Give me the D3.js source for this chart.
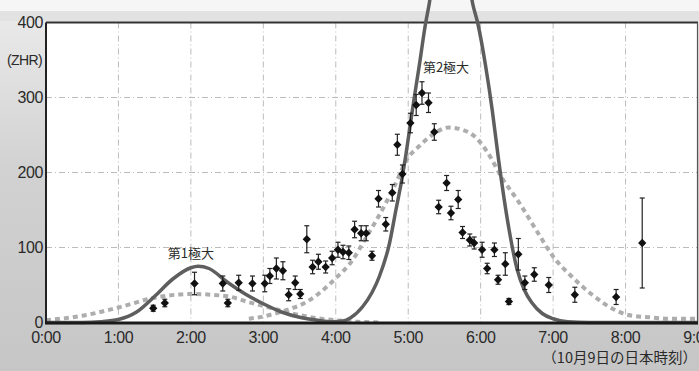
<!DOCTYPE html>
<meta charset="utf-8">
<style>
body { margin: 0; background: #fff; }
svg { display: block; }
.tick-label { font-family: "Liberation Sans", Arial, sans-serif; font-size: 16px; fill: #2a2a2a; letter-spacing: -0.4px; }
.jp { font-family: "Noto Sans CJK JP", sans-serif; fill: #2a2a2a; }
.grid line { stroke: #bcbcbc; stroke-width: 1; stroke-dasharray: 6,3,1,3; }
</style>
<body>
<script src="https://cdn.jsdelivr.net/npm/d3@7"></script>
<script>
var W = 699, H = 371

// observed ZHR (time in hours, Japan time on Oct 9)
var obsTime = [1.48, 1.64, 2.05, 2.44, 2.51, 2.66, 2.85, 3.02, 3.09, 3.18, 3.27, 3.35, 3.44, 3.51, 3.60,
    3.68, 3.76, 3.86, 3.95, 4.03, 4.10, 4.18, 4.26, 4.35, 4.42, 4.50, 4.59, 4.69, 4.78, 4.85, 4.92,
    5.03, 5.11, 5.19, 5.28, 5.36, 5.42, 5.53, 5.59, 5.69, 5.75, 5.85, 5.91, 6.02, 6.09, 6.19, 6.24,
    6.34, 6.39, 6.52, 6.61, 6.74, 6.94, 7.30, 7.87, 8.23]
var obsZhr = [19, 26, 52, 52, 26, 53, 52, 52, 62, 72, 69, 37, 53, 38, 111,
    74, 81, 74, 86, 97, 94, 93, 124, 119, 119, 89, 165, 131, 173, 237, 198,
    266, 290, 306, 293, 254, 154, 186, 146, 164, 120, 110, 106, 97, 72, 97, 57,
    78, 28, 91, 53, 64, 50, 37, 34, 106]
var obsErr = [4, 5, 15, 10, 5, 10, 10, 11, 10, 14, 12, 8, 9, 6, 18,
    9, 10, 8, 9, 10, 9, 9, 11, 10, 10, 6, 11, 9, 11, 14, 12,
    13, 14, 15, 13, 11, 9, 10, 9, 12, 8, 8, 8, 10, 7, 9, 6,
    15, 4, 21, 9, 9, 10, 10, 10, 60]

// model curve (solid)
var solidTime = [0, 0.5, 0.75, 1.0, 1.25, 1.5, 1.75, 2.0, 2.1, 2.25, 2.5, 2.75, 3.0, 3.25, 3.5, 3.75, 3.95,
    4.1, 4.2, 4.37, 4.5, 4.6, 4.74, 4.83, 4.92, 4.97, 5.06, 5.15, 5.24, 5.29, 5.59,
    5.89, 5.96, 6.07, 6.16, 6.25, 6.39, 6.5, 6.6, 6.71, 6.85, 7.0, 7.2, 7.5, 9.0]
var solidZhr = [0, 0, 1, 4, 14, 35, 58, 73, 75, 72, 54, 38, 25, 14, 7, 3, 1,
    2, 6, 21, 40, 61, 105, 150, 195, 225, 285, 341, 399, 425, 680,
    425, 399, 341, 283, 215, 125, 72, 44, 26, 12, 5, 1, 0, 0]

// model curves (dashed), first and second component
var dashATime = [0, 0.5, 1.0, 1.5, 2.0, 2.5, 2.8, 3.0, 3.2, 3.4, 3.6, 3.8, 4.0, 4.3, 4.6]
var dashAZhr = [3, 9, 20, 33, 38, 35, 27, 22, 17, 12, 8, 5, 3, 1, 0]
var dashBTime = [2.8, 3.0, 3.2, 3.4, 3.55, 3.77, 4.0, 4.23, 4.41, 4.6, 4.8, 5.0, 5.15, 5.33, 5.56, 5.75,
    5.95, 6.1, 6.3, 6.53, 6.8, 7.0, 7.26, 7.54, 7.81, 8.04, 8.32, 8.64, 9.0]
var dashBZhr = [5, 8, 13, 19, 25, 39, 59, 83, 112, 143, 180, 220, 235, 250, 260, 257,
    245, 226, 192, 160, 118, 88, 61, 37, 19, 10, 7, 5, 5]

var hourTicks = [0, 1, 2, 3, 4, 5, 6, 7, 8, 9]
var zhrTicks = [0, 100, 200, 300, 400]

var x = d3.scaleLinear().domain([0, 9]).range([46, 698])
var y = d3.scaleLinear().domain([0, 400]).range([322.5, 22.5])

var svg = d3.select('body').append('svg')
    .attr('width', W).attr('height', H)

var defs = svg.append('defs')
var grad = defs.append('linearGradient').attr('id', 'scan')
    .attr('x1', 0).attr('y1', 0).attr('x2', 0).attr('y2', 1)
grad.append('stop').attr('offset', '0%').attr('stop-color', '#ececec')
grad.append('stop').attr('offset', '45%').attr('stop-color', '#d2d2d2')
grad.append('stop').attr('offset', '100%').attr('stop-color', '#c6c6c6')

// scanned page background
svg.append('rect').attr('width', W).attr('height', H).attr('fill', 'url(#scan)')
svg.append('rect').attr('width', W).attr('height', 11).attr('fill', '#f6f6f6')
svg.append('rect').attr('x', 0).attr('y', 11).attr('width', W).attr('height', 10).attr('fill', '#e2e2e2')

svg.append('rect')
    .attr('x', x(0)).attr('y', y(400))
    .attr('width', x(9) - x(0)).attr('height', y(0) - y(400))
    .attr('fill', '#fff')

// grid
var grid = svg.append('g').attr('class', 'grid')
grid.selectAll('.v').data(hourTicks.slice(1, -1)).enter().append('line')
    .attr('x1', function (d) { return x(d) }).attr('x2', function (d) { return x(d) })
    .attr('y1', y(400)).attr('y2', y(0))
grid.selectAll('.h').data(zhrTicks.slice(1, -1)).enter().append('line')
    .attr('x1', x(0)).attr('x2', x(9))
    .attr('y1', function (d) { return y(d) }).attr('y2', function (d) { return y(d) })

// frame
svg.append('line').attr('x1', x(0)).attr('x2', x(9)).attr('y1', y(400)).attr('y2', y(400))
    .attr('stroke', '#333').attr('stroke-width', 2)
svg.append('line').attr('x1', x(9) - 0.5).attr('x2', x(9) - 0.5).attr('y1', y(400)).attr('y2', y(0))
    .attr('stroke', '#555').attr('stroke-width', 1.2)

// curves
var line = d3.line()
    .x(function (d) { return x(d[0]) })
    .y(function (d) { return y(d[1]) })
    .curve(d3.curveMonotoneX)

function pairs(t, v) { return t.map(function (d, i) { return [d, v[i]] }) }

svg.append('path').datum(pairs(dashATime, dashAZhr))
    .attr('d', line).attr('fill', 'none')
    .attr('stroke', '#adadad').attr('stroke-width', 4).attr('stroke-dasharray', '5,4')
svg.append('path').datum(pairs(dashBTime, dashBZhr))
    .attr('d', line).attr('fill', 'none')
    .attr('stroke', '#adadad').attr('stroke-width', 4).attr('stroke-dasharray', '5,4')
svg.append('path').datum(pairs(solidTime, solidZhr))
    .attr('d', line).attr('fill', 'none')
    .attr('stroke', '#5e5e5e').attr('stroke-width', 3.5)

// axes lines
svg.append('line').attr('x1', x(0)).attr('x2', x(0)).attr('y1', y(400)).attr('y2', y(0))
    .attr('stroke', '#222').attr('stroke-width', 2)
svg.append('line').attr('x1', x(0) - 1).attr('x2', x(9)).attr('y1', y(0) + 0.5).attr('y2', y(0) + 0.5)
    .attr('stroke', '#1a1a1a').attr('stroke-width', 3)

// observations with error bars
var obs = obsTime.map(function (d, i) { return { t: d, v: obsZhr[i], e: obsErr[i] } })
var pts = svg.append('g').selectAll('g').data(obs).enter().append('g')
    .attr('transform', function (d) { return 'translate(' + x(d.t) + ',0)' })
pts.append('line')
    .attr('y1', function (d) { return y(d.v + d.e) }).attr('y2', function (d) { return y(d.v - d.e) })
    .attr('stroke', '#222').attr('stroke-width', 1.2)
pts.selectAll('.cap')
    .data(function (d) { return [d.v + d.e, d.v - d.e] })
    .enter().append('line')
    .attr('x1', -2.5).attr('x2', 2.5)
    .attr('y1', function (d) { return y(d) }).attr('y2', function (d) { return y(d) })
    .attr('stroke', '#222').attr('stroke-width', 1.2)
pts.append('path')
    .attr('transform', function (d) { return 'translate(0,' + y(d.v) + ')' })
    .attr('d', d3.symbol(d3.symbolDiamond2, 44))
    .attr('fill', '#111')

// tick labels
svg.selectAll('.ylab').data(zhrTicks).enter().append('text')
    .attr('class', 'tick-label')
    .attr('x', 43).attr('y', function (d) { return y(d) })
    .attr('dy', '0.36em').attr('text-anchor', 'end')
    .text(function (d) { return d })
svg.append('text').attr('class', 'tick-label')
    .attr('x', 42).attr('y', 60).attr('dy', '0.36em').attr('text-anchor', 'end')
    .style('font-size', '14px').style('letter-spacing', '-0.6px')
    .text('(ZHR)')
svg.selectAll('.xlab').data(hourTicks).enter().append('text')
    .attr('class', 'tick-label')
    .attr('x', function (d) { return x(d) }).attr('y', 337)
    .attr('dy', '0.36em').attr('text-anchor', 'middle')
    .text(function (d) { return d + ':00' })

// annotations
svg.append('text').attr('class', 'jp')
    .attr('x', x(2.0)).attr('y', 253).attr('dy', '0.36em').attr('text-anchor', 'middle')
    .style('font-size', '13px').text('第1極大')
svg.append('text').attr('class', 'jp')
    .attr('x', 446).attr('y', 67).attr('dy', '0.36em').attr('text-anchor', 'middle')
    .style('font-size', '13px').text('第2極大')
svg.append('text').attr('class', 'jp')
    .attr('x', 697).attr('y', 358).attr('dy', '0.36em').attr('text-anchor', 'end')
    .style('font-size', '14.5px').text('（10月9日の日本時刻）')
</script>
</body>
